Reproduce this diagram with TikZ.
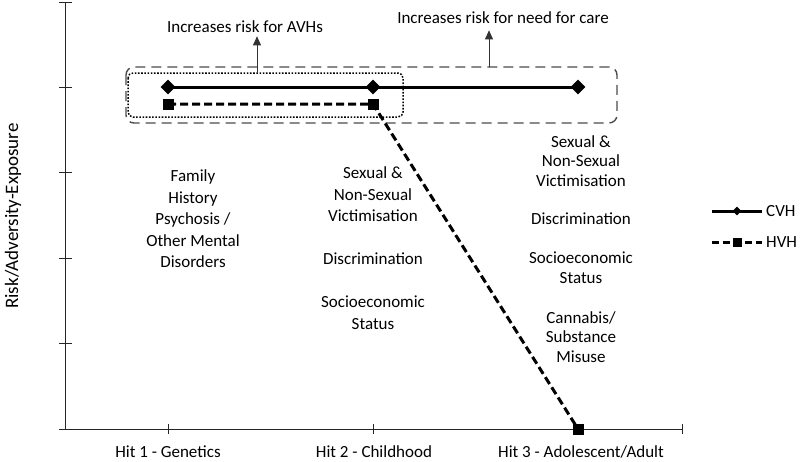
\documentclass[tikz,border=0pt]{standalone}
\usepackage{fontspec}
\setmainfont{Carlito}
\usetikzlibrary{shapes.geometric,arrows.meta,positioning}

\begin{document}
\begin{tikzpicture}[x=1pt,y=-1pt,
    axisline/.style={draw=black!85,line width=1pt},
    cvhline/.style={draw=black,line width=3pt},
    hvhline/.style={draw=black,line width=3pt,dash pattern=on 8pt off 4pt},
    cvhmark/.style={diamond,fill=black,inner sep=0pt,minimum size=15pt},
    hvhmark/.style={rectangle,fill=black,inner sep=0pt,minimum size=11pt},
    caregroup/.style={draw=black!70,line width=1.4pt,dash pattern=on 10pt off 6pt,rounded corners=8pt},
    avhgroup/.style={draw=black,line width=1.5pt,dash pattern=on 1.6pt off 1.6pt,rounded corners=5pt},
    factor/.style={align=center,inner sep=0pt,font=\fontsize{17}{21.5}\selectfont},
    riskarrow/.style={draw=black!80,line width=0.9pt,-{Triangle[length=9pt,width=8pt]}}]
    \useasboundingbox (0,0) rectangle (800,461);

    % axes
    \coordinate (origin) at (65,429);
    \coordinate (ytop) at (65,2);
    \coordinate (xend) at (682,429);
    \draw[axisline] (ytop) -- (origin) -- (xend);
    \foreach \y in {2,87.4,172.8,258.2,343.6,429}
        \draw[axisline] (59,\y) -- (72,\y);
    \foreach \x in {168,373,578,682}
        \draw[axisline] (\x,424) -- (\x,434);

    \begin{scope}[every node/.style={font=\fontsize{17}{20}\selectfont,anchor=base}]
        \node (hit1) at (168,457) {Hit 1 - Genetics};
        \node (hit2) at (374,457) {Hit 2 - Childhood};
        \node (hit3) at (581,457) {Hit 3 - Adolescent/Adult};
    \end{scope}
    \node[rotate=90,font=\fontsize{19}{22}\selectfont] (ylabel) at (13,216) {Risk/Adversity-Exposure};

    % groups of hits
    \draw[caregroup] (126,67) rectangle (617,123);
    \draw[avhgroup] (128,73) rectangle (403,117);
    \coordinate (avhfoot) at (257,73);
    \coordinate (carefoot) at (489,67);
    \node[factor,anchor=base] (avhtext) at (245,32) {Increases risk for AVHs};
    \node[factor,anchor=base] (caretext) at (503,23) {Increases risk for need for care};
    \draw[riskarrow,shorten >=4pt] (avhfoot) -- (avhtext.south -| avhfoot);
    \draw[riskarrow,shorten >=7pt] (carefoot) -- (caretext.south -| carefoot);

    % risk factors
    \node[factor] (famhist) at (193,219) {Family\\History\\Psychosis /\\Other Mental\\Disorders};
    \node[factor] (victim2) at (373,194.5) {Sexual \&\\Non-Sexual\\Victimisation};
    \node[factor] (discrim2) at (373,259) {Discrimination};
    \node[factor] (ses2) at (373,312.5) {Socioeconomic\\Status};
    \begin{scope}[every node/.style={factor,font=\fontsize{17}{19.5}\selectfont}]
        \node (victim3) at (581,161) {Sexual \&\\Non-Sexual\\Victimisation};
        \node (discrim3) at (581,219) {Discrimination};
        \node (ses3) at (581,267.5) {Socioeconomic\\Status};
        \node (cannabis3) at (581,337) {Cannabis/\\Substance\\Misuse};
    \end{scope}

    % CVH and HVH
    \begin{scope}[every node/.style={cvhmark}]
        \node (cvh1) at (168,87) {};
        \node (cvh2) at (373,87) {};
        \node (cvh3) at (578,87) {};
    \end{scope}
    \begin{scope}[every node/.style={hvhmark}]
        \node (hvh1) at (168,104) {};
        \node (hvh2) at (373,104) {};
        \node (hvh3) at (578,429) {};
    \end{scope}
    \draw[cvhline] (cvh1.center) -- (cvh2.center) -- (cvh3.center);
    \draw[hvhline] (hvh1.center) -- (hvh2.center) -- (hvh3.center);

    % legend
    \coordinate (cvhkeyL) at (712,211);
    \coordinate (cvhkeyR) at (762,211);
    \coordinate (hvhkeyL) at (712,242);
    \coordinate (hvhkeyR) at (762,242);
    \draw[cvhline] (cvhkeyL) -- (cvhkeyR);
    \draw[hvhline,dash pattern=on 7pt off 4pt] (hvhkeyL) -- (hvhkeyR);
    \node[cvhmark,minimum size=9pt] (cvhkey) at (737,211) {};
    \node[hvhmark,minimum size=9pt] (hvhkey) at (737,242) {};
    \node[factor,anchor=west] (cvhname) at (766,211) {CVH};
    \node[factor,anchor=west] (hvhname) at (766,242) {HVH};
\end{tikzpicture}
\end{document}
